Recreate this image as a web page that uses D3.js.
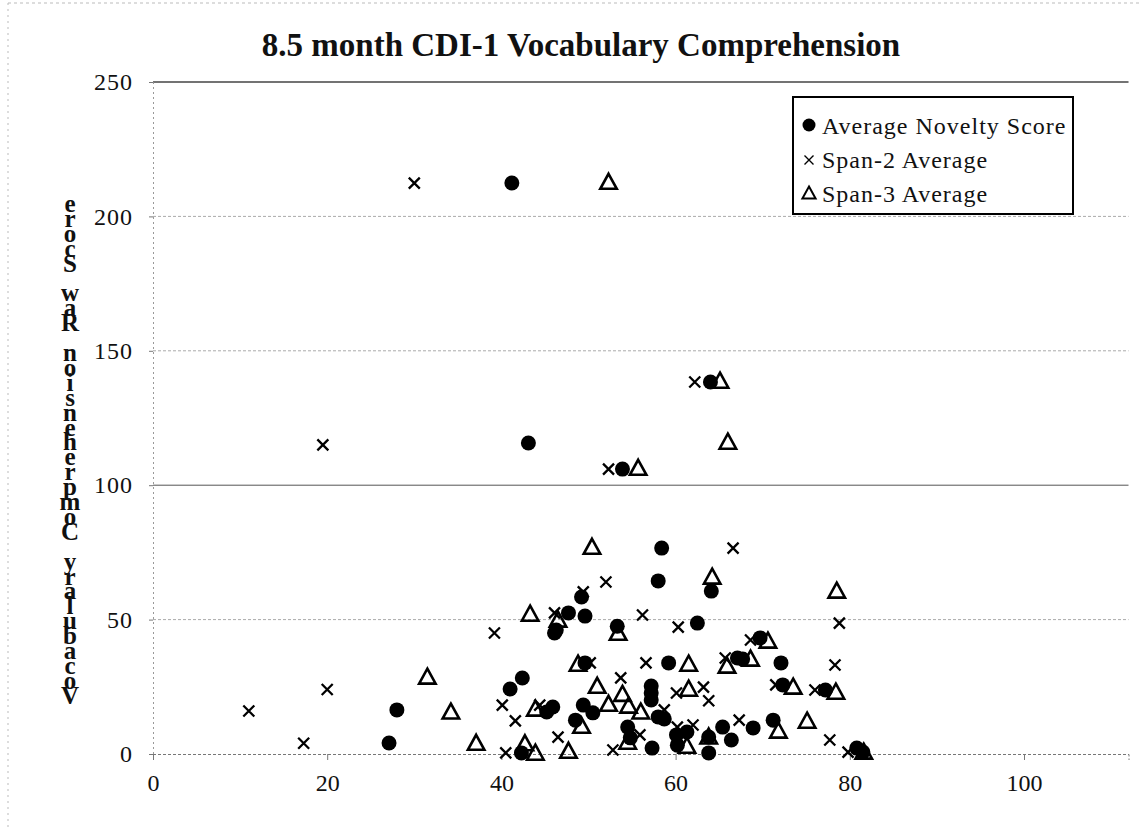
<!DOCTYPE html>
<html><head><meta charset="utf-8">
<script src="https://cdn.jsdelivr.net/npm/d3@7"></script>
<style>body{margin:0;background:#fff}svg{display:block}</style>
</head><body>
<script>
const title = "8.5 month CDI-1 Vocabulary Comprehension";
const yTitle = "Vocabulary Comprehension Raw Score";
const xTicks = [0,20,40,60,80,100];
const yTicks = [0,50,100,150,200,250];
const seriesNames = ["Average Novelty Score","Span-2 Average","Span-3 Average"];

const noveltyX = [41.2,64.0,43.1,53.9,58.4,58.0,64.1,47.7,49.6,49.2,53.3,62.5,46.3,46.1,69.7,67.1,67.7,72.1,72.3,77.2,59.2,49.6,42.4,41.0,57.2,57.2,57.2,45.9,45.2,49.4,50.5,58.0,58.7,48.5,54.5,54.8,60.1,61.3,60.2,57.3,63.8,65.4,66.4,68.9,71.2,63.8,80.8,81.5,42.3,27.1,28.0];
const noveltyY = [212.4,138.4,115.7,106,76.6,64.4,60.6,52.5,51.3,58.4,47.5,48.7,46.1,45.0,43.2,35.7,35.3,33.9,25.7,23.8,33.9,33.9,28.3,24.2,25.3,22.7,20.1,17.5,15.6,18.2,15.3,13.8,13.0,12.6,10.0,6.0,7.1,8.2,3.3,2.2,6.3,10.0,5.2,9.7,12.6,0.4,2.2,0.7,0.4,4.1,16.4];

const span2X = [30.0,62.2,19.5,52.3,66.6,52.0,49.4,46.1,56.2,60.3,78.8,39.2,68.6,65.7,78.3,50.2,56.6,53.7,71.5,63.2,76.0,60.1,63.8,40.1,44.4,58.7,41.6,67.3,60.2,62.0,55.9,46.5,77.7,52.8,40.5,79.8,11.0,17.3,20.0];
const span2Y = [212.4,138.4,115.0,106,76.6,64.0,60.3,52.5,51.7,47.2,48.7,45.0,42.4,35.7,33.1,33.9,33.9,28.3,25.7,24.9,23.8,22.7,19.8,18.2,18.2,16.4,12.3,12.6,10.0,10.8,7.1,6.3,5.2,1.5,0.4,0.7,16.0,4.0,24.0];

const span3X = [52.3,65.1,66.0,55.7,50.4,64.2,78.5,43.3,46.5,53.4,70.6,68.6,65.9,48.8,61.5,31.5,51.0,73.5,61.5,78.4,53.9,52.3,54.6,56.0,43.9,34.2,75.1,49.2,71.8,63.8,54.5,61.3,37.1,42.7,47.7,43.9,81.6];
const span3Y = [212.4,138.4,115.7,106,76.6,65.5,60.3,51.7,49.5,44.6,41.7,35.0,32.4,33.1,33.1,28.3,24.9,24.6,23.8,22.7,21.9,18.2,17.5,15.3,16.4,15.3,11.9,10.0,8.2,6.0,4.1,2.6,3.7,3.5,0.7,0.0,0.4];

const W = 1141, H = 830;
const svg = d3.select("body").append("svg").attr("width", W).attr("height", H);
const serif = "'Liberation Serif','Times New Roman',serif";

// faint outer frame
svg.append("line").attr("x1",8).attr("x2",8).attr("y1",3).attr("y2",H).attr("stroke","#bbb").attr("stroke-dasharray","2,4");
svg.append("line").attr("x1",8).attr("x2",W).attr("y1",3).attr("y2",3).attr("stroke","#bbb").attr("stroke-dasharray","3,3");

const x = d3.scaleLinear().domain([0,112]).range([153,153+112*8.71]);
const y = d3.scaleLinear().domain([0,250]).range([754,82]);

// gridlines
svg.append("g").selectAll("line").data(yTicks.filter(d=>d>0)).join("line")
  .attr("x1", x(0)).attr("x2", x(112)).attr("y1", d=>y(d)).attr("y2", d=>y(d))
  .attr("stroke", d=> d===100 ? "#555" : (d===250 ? "#444" : "#aaa"))
  .attr("stroke-width", d=> d===250 ? 1.5 : 1)
  .attr("stroke-dasharray", d=> (d===100||d===250) ? null : "3,2");

// axes
const xAxis = d3.axisBottom(x).tickValues(xTicks).tickSize(6).tickPadding(14).tickFormat(d3.format("d"));
const gx = svg.append("g").attr("transform", `translate(0,${y(0)})`).call(xAxis);
gx.select(".domain").attr("stroke","#777").attr("stroke-dasharray","3,2");
gx.selectAll(".tick line").attr("stroke","#777");
gx.selectAll("text").attr("font-family", serif).attr("font-size", 24).attr("fill","#111");

const yAxis = d3.axisLeft(y).tickValues(yTicks).tickSize(4).tickPadding(16);
const gy = svg.append("g").attr("transform", `translate(${x(0)},0)`).call(yAxis);
gy.select(".domain").attr("stroke","#999").attr("stroke-dasharray","2,3");
gy.selectAll(".tick line").attr("stroke","#777");
gy.selectAll("text").attr("font-family", serif).attr("font-size", 24).attr("fill","#111").attr("letter-spacing", 1);

// title
svg.append("text").attr("x", 581).attr("y", 56).attr("text-anchor","middle")
  .attr("font-family", serif).attr("font-weight","bold").attr("font-size", 33).attr("fill","#111").text(title);

// y title: stacked reversed letters
const chars = Array.from(yTitle).reverse();
const yt = svg.append("text").attr("font-family", serif).attr("font-weight","bold").attr("font-size", 25).attr("fill","#111").attr("text-anchor","middle");
chars.forEach((c,i)=>{
  yt.append("tspan").attr("x", 70).attr("y", 212 + i*14.9).text(c === " " ? "\u00a0" : c);
});

// markers
const toPts = (xs, ys) => xs.map((v,i)=>({x:v, y:ys[i]}));
const triPath = (s)=>`M0,${-s*0.62}L${s*0.55},${s*0.38}L${-s*0.55},${s*0.38}Z`;
const crossPath = (s)=>`M${-s},${-s}L${s},${s}M${-s},${s}L${s},${-s}`;

const g = svg.append("g");
g.selectAll(".s3").data(toPts(span3X, span3Y)).join("path").attr("class","s3")
  .attr("transform", d=>`translate(${x(d.x)},${y(d.y)})`).attr("d", triPath(15))
  .attr("fill","none").attr("stroke","#000").attr("stroke-width",2.6).attr("stroke-linejoin","miter");
g.selectAll(".s2").data(toPts(span2X, span2Y)).join("path").attr("class","s2")
  .attr("transform", d=>`translate(${x(d.x)},${y(d.y)})`).attr("d", crossPath(5.5))
  .attr("fill","none").attr("stroke","#000").attr("stroke-width",2.3);
g.selectAll(".s1").data(toPts(noveltyX, noveltyY)).join("circle").attr("class","s1")
  .attr("cx", d=>x(d.x)).attr("cy", d=>y(d.y)).attr("r", 7.5).attr("fill","#000");

// legend
const lg = svg.append("g");
lg.append("rect").attr("x",793).attr("y",97).attr("width",280).attr("height",117)
  .attr("fill","#fff").attr("stroke","#000").attr("stroke-width",2);
const rows = [126,160,194];
lg.append("circle").attr("cx",809).attr("cy",rows[0]-1).attr("r",6.5).attr("fill","#000");
lg.append("path").attr("transform",`translate(809,${rows[1]})`).attr("d",crossPath(4.5)).attr("stroke","#000").attr("stroke-width",1.4);
lg.append("path").attr("transform",`translate(809,${rows[2]})`).attr("d",triPath(12)).attr("fill","none").attr("stroke","#000").attr("stroke-width",2);
seriesNames.forEach((n,i)=>{
  lg.append("text").attr("x",822).attr("y",rows[i]+8).attr("font-family",serif).attr("font-size",24)
    .attr("fill","#111").attr("letter-spacing",1.0).text(n);
});
</script>
</body></html>
